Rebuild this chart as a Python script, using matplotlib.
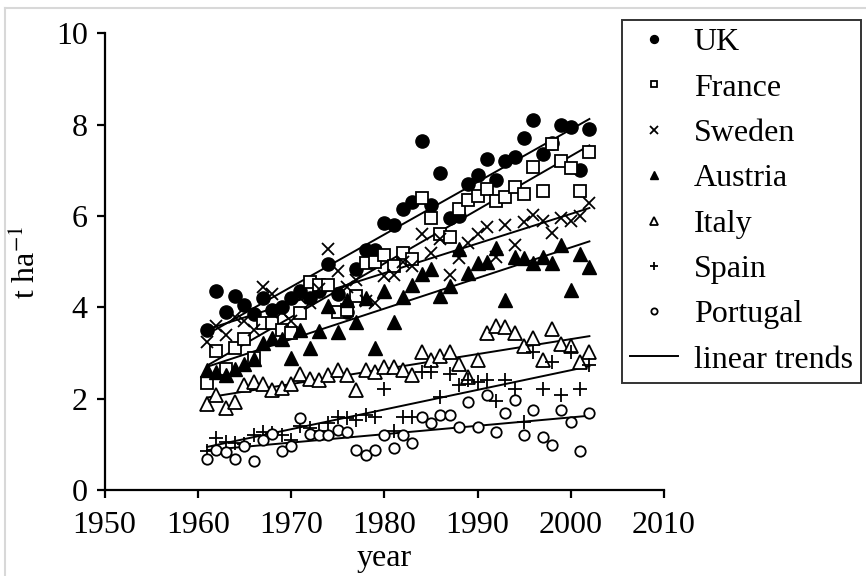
import numpy as np
import matplotlib
matplotlib.use('Agg')
import matplotlib.pyplot as plt
from matplotlib.lines import Line2D

plt.rcParams['font.family'] = ['Liberation Serif', 'DejaVu Serif']
plt.rcParams['mathtext.fontset'] = 'stix'

years = np.arange(1961, 2003)

uk = [3.5, 4.35, 3.9, 4.25, 4.05, 3.85, 4.2, 3.95, 4.0, 4.2, 4.35, 4.2, 4.35, 4.95,
      4.3, 3.9, 4.85, 5.25, 5.25, 5.85, 5.8, 6.15, 6.3, 7.65, 6.25, 6.95, 5.95, 6.0,
      6.7, 6.9, 7.25, 6.8, 7.2, 7.3, 7.7, 8.1, 7.35, 7.6, 8.0, 7.95, 7.0, 7.9]
france = [2.35, 3.05, 2.65, 3.1, 3.3, 2.9, 3.65, 3.65, 3.5, 3.45, 3.88, 4.55, 4.5, 4.5,
          3.9, 3.95, 4.26, 4.97, 5.0, 5.15, 4.9, 5.2, 5.05, 6.4, 5.95, 5.6, 5.55, 6.16,
          6.36, 6.45, 6.6, 6.33, 6.41, 6.63, 6.48, 7.07, 6.56, 7.58, 7.21, 7.05, 6.56, 7.41]
sweden = [3.25, 3.6, 3.4, 3.8, 3.7, 3.5, 4.45, 4.3, 3.9, 3.7, 4.2, 4.1, 4.4, 5.28,
          4.8, 4.45, 4.6, 4.15, 4.1, 4.68, 4.7, 5.0, 4.9, 5.6, 5.2, 5.5, 4.72, 5.08,
          5.4, 5.6, 5.77, 5.1, 5.8, 5.37, 5.87, 6.02, 5.9, 5.62, 5.95, 5.9, 6.0, 6.28]
austria = [2.62, 2.58, 2.52, 2.65, 2.75, 2.88, 3.23, 3.34, 3.3, 2.89, 3.51, 3.12, 3.49, 4.03,
           3.46, 4.17, 3.67, 4.2, 3.1, 4.37, 3.69, 4.22, 4.48, 4.73, 4.84, 4.24, 4.46, 5.27,
           4.75, 4.98, 5.0, 5.3, 4.17, 5.11, 5.08, 4.97, 5.11, 4.97, 5.36, 4.39, 5.17, 4.88]
italy = [1.89, 2.08, 1.79, 1.93, 2.29, 2.36, 2.33, 2.18, 2.24, 2.33, 2.54, 2.44, 2.4, 2.51,
         2.62, 2.51, 2.18, 2.62, 2.58, 2.69, 2.69, 2.62, 2.51, 3.02, 2.84, 2.94, 3.02, 2.76,
         2.47, 2.84, 3.45, 3.59, 3.56, 3.45, 3.16, 3.34, 2.84, 3.52, 3.2, 3.16, 2.8, 3.02]
spain = [0.85, 1.13, 1.06, 1.03, 1.0, 1.21, 1.28, 1.24, 1.21, 1.1, 1.4, 1.35, 1.3, 1.46,
         1.6, 1.57, 1.53, 1.64, 1.6, 2.22, 1.3, 1.61, 1.61, 2.58, 2.58, 2.03, 2.55, 2.3,
         2.4, 2.36, 2.42, 1.95, 2.42, 2.22, 1.5, 3.03, 2.22, 2.8, 2.09, 3.02, 2.22, 2.73]
portugal = [0.67, 0.88, 0.83, 0.68, 0.97, 0.63, 1.1, 1.22, 0.85, 0.97, 1.58, 1.23, 1.2, 1.21,
            1.32, 1.28, 0.88, 0.77, 0.88, 1.21, 0.92, 1.21, 1.03, 1.61, 1.46, 1.64, 1.64, 1.39,
            1.93, 1.39, 2.08, 1.28, 1.68, 1.97, 1.21, 1.75, 1.17, 0.99, 1.75, 1.5, 0.86, 1.68]

names = ['UK', 'France', 'Sweden', 'Austria', 'Italy', 'Spain', 'Portugal']
series = [uk, france, sweden, austria, italy, spain, portugal]
# marker, size, filled
styles = [('o', 9.5, True), ('s', 8, False), ('x', 8.5, False), ('^', 9.5, True),
          ('^', 9.5, False), ('+', 9.5, False), ('o', 7.5, False)]

fig = plt.figure(figsize=(8.66, 5.76), dpi=100)
ax = fig.add_axes([104.5 / 866, 1 - 490 / 576, (664 - 104.5) / 866, (490 - 33.5) / 576])

handles = []
for name, vals, (m, ms, filled) in zip(names, series, styles):
    vals = np.array(vals)
    if filled:
        kw = dict(color='black')
    elif m in ('x', '+'):
        kw = dict(color='black', markeredgewidth=1.3)
    else:
        kw = dict(markerfacecolor='white', markeredgecolor='black', markeredgewidth=1.3)
    ax.plot(years, vals, linestyle='none', marker=m, markersize=ms, zorder=3, **kw)
    # linear trend
    coef = np.polyfit(years, vals, 1)
    ax.plot(years, np.polyval(coef, years), color='black', lw=1.4, zorder=2)
    handles.append(Line2D([], [], linestyle='none', marker=m, markersize=ms * 0.6, **kw))

handles.append(Line2D([], [], color='black', lw=1.4))
labels = names + ['linear trends']

ax.set_xlim(1950, 2010)
ax.set_ylim(0, 10)
ax.set_xticks(range(1950, 2011, 10))
ax.set_yticks(range(0, 11, 2))
for s in ['top', 'right']:
    ax.spines[s].set_visible(False)
for s in ['left', 'bottom']:
    ax.spines[s].set_linewidth(1.6)
ax.tick_params(direction='out', length=6, width=1.6, labelsize=23)
ax.tick_params(axis='x', pad=9)
ax.tick_params(axis='y', pad=6)
ax.set_xlabel('year', fontsize=23, labelpad=3)
ax.set_ylabel(r't ha$^{-1}$', fontsize=23, labelpad=10)

leg = fig.legend(handles, labels, loc='upper left', bbox_to_anchor=(622 / 866, 1 - 20 / 576),
                 frameon=True, fancybox=False, fontsize=23, labelspacing=0.5,
                 handlelength=1.5, handletextpad=0.5, borderpad=0.25, borderaxespad=0)
leg.get_frame().set_edgecolor('black')
leg.get_frame().set_linewidth(1.4)

# faint grey frame of the original screenshot
fig.add_artist(Line2D([0.006, 0.006], [0, 0.986], transform=fig.transFigure, color='#d8d8d8', lw=1.5))
fig.add_artist(Line2D([0.006, 1], [0.986, 0.986], transform=fig.transFigure, color='#d8d8d8', lw=1.5))

fig.savefig('out.png', dpi=100)
